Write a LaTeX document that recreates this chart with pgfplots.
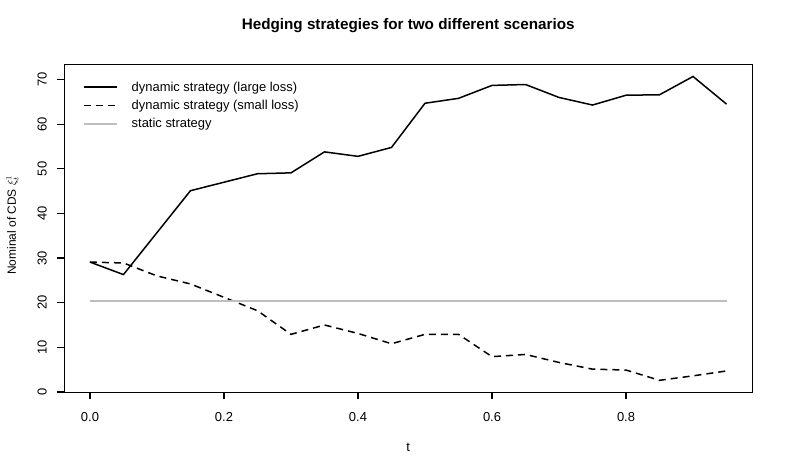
\documentclass[border=0pt]{standalone}
\usepackage{fontspec}
\setmainfont{Liberation Sans}
\usepackage{pgfplots}
\pgfplotsset{compat=1.18}
\definecolor{rgray}{RGB}{190,190,190}
\begin{document}
\begin{tikzpicture}
\useasboundingbox (0bp,0bp) rectangle (786bp,472bp);
\begin{axis}[
  at={(64.5bp,80bp)}, anchor=south west,
  scale only axis, width=687.5bp, height=328bp,
  clip=false,
  xmin=-0.038, xmax=0.988, ymin=-0.02, ymax=73.5,
  axis line style={line width=0.75bp},
  font=\fontsize{13}{15}\selectfont,
  /pgf/number format/assume math mode=true,
  xtick={0,0.2,0.4,0.6,0.8},
  ytick={0,10,20,30,40,50,60,70},
  xticklabel style={/pgf/number format/fixed,/pgf/number format/fixed zerofill,/pgf/number format/precision=1},
  tickpos=left,
  tick align=outside,
  major tick length=7.5bp,
  every tick/.style={draw=black, line width=1.2bp},
  yticklabel style={rotate=90, anchor=south, inner sep=0pt, yshift=10bp},
  xticklabel style={anchor=north, inner sep=0pt, yshift=-13bp},
  title={\bfseries Hedging strategies for two different scenarios},
  title style={at={(0.5,1)}, anchor=center, yshift=32bp, font=\fontsize{15.3}{18}\selectfont\bfseries},
  xlabel={t},
  xlabel style={at={(0.5,0)}, anchor=center, yshift=-55bp},
  legend style={draw=none, fill=none, at={(0,1)}, anchor=north west, xshift=18.5bp, yshift=-15.5bp,
    font=\fontsize{13}{15}\selectfont, row sep=3.5bp, inner sep=0pt},
  legend cell align=left,
  legend image code/.code={\draw[#1] (0bp,0bp) -- (33bp,0bp); \path (45bp,0bp);},
]
\addplot[black, line width=1.5bp] coordinates {
(0,29.1) (0.05,26.3) (0.1,35.7) (0.15,45.1) (0.2,47.0) (0.25,48.9) (0.3,49.1)
(0.35,53.8) (0.4,52.8) (0.45,54.8) (0.5,64.7) (0.55,65.8) (0.6,68.7) (0.65,68.9)
(0.7,66.0) (0.75,64.3) (0.8,66.5) (0.85,66.6) (0.9,70.7) (0.95,64.5)};
\addlegendentry{dynamic strategy (large loss)}
\addplot[black, line width=1.5bp, dash pattern=on 7bp off 5bp] coordinates {
(0,29.1) (0.05,28.9) (0.1,26.0) (0.15,24.2) (0.2,21.2) (0.25,18.2) (0.3,12.9)
(0.35,15.0) (0.4,13.1) (0.45,10.8) (0.5,12.9) (0.55,12.9) (0.6,7.9) (0.65,8.4)
(0.7,6.6) (0.75,5.1) (0.8,4.9) (0.85,2.6) (0.9,3.6) (0.95,4.7)};
\addlegendentry{dynamic strategy (small loss)}
\addplot[rgray, line width=1.5bp] coordinates {(0,20.35) (0.95,20.35)};
\addlegendentry{static strategy}
\pgfplotsinvokeforeach{0,0.2,0.4,0.6,0.8}{\draw[black, line width=1.2bp] (axis cs:#1,-0.02) -- ++(0bp,-7.5bp);}
\pgfplotsinvokeforeach{0,10,20,30,40,50,60,70}{\draw[black, line width=1.2bp] (axis cs:-0.038,#1) -- ++(-7.5bp,0bp);}
\node[rotate=90, anchor=center, font=\fontsize{12}{14}\selectfont] at ([xshift=-52bp,yshift=3bp]rel axis cs:0,0.5) {Nominal of CDS $\xi^1_t$};
\end{axis}
\end{tikzpicture}
\end{document}
